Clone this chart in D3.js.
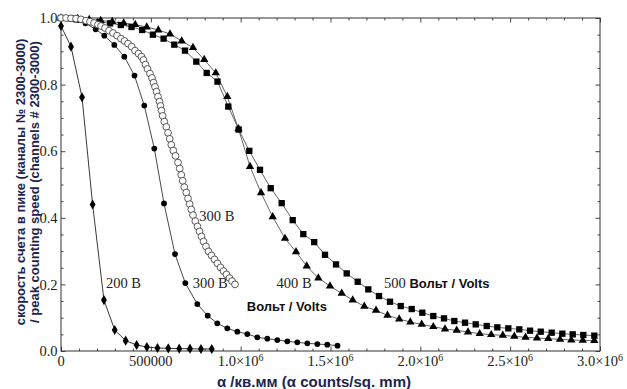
<!DOCTYPE html>
<html><head><meta charset="utf-8">
<script src="https://cdn.jsdelivr.net/npm/d3@7"></script>
<style>body{margin:0;background:#fff} svg{display:block}</style>
</head><body><svg id="c" width="627" height="389"></svg>
<script>
// ---------- data ----------
const xTicks = [0, 500000, 1000000, 1500000, 2000000, 2500000, 3000000];
const xTickLabels = ["0", "500000", "1.0×10", "1.5×10", "2.0×10", "2.5×10", "3.0×10"];
const xTickExps = ["", "", "6", "6", "6", "6", "6"];
const yTicks = [0, 0.2, 0.4, 0.6, 0.8, 1.0];
const yTickLabels = ["0.0", "0.2", "0.4", "0.6", "0.8", "1.0"];

// 200 V, diamonds
const s200 = [[0,0.976],[55700,0.914],[117000,0.762],[176000,0.44],[239000,0.153],[299000,0.063],
  [360000,0.031],[421000,0.018],[478000,0.012],[537000,0.009],[597000,0.008],[658000,0.007],
  [718000,0.007],[779000,0.006],[839000,0.006]];
// 300 V, filled circles
const s300 = [[0,1.0],[77900,0.995],[136400,0.984],[193100,0.966],[241000,0.947],[296700,0.919],
  [352300,0.884],[409100,0.827],[463600,0.737],[519300,0.608],[573300,0.443],[634500,0.291],
  [691900,0.204],[758600,0.141],[816500,0.106],[870000,0.083],[925600,0.068],[981300,0.058],
  [1036900,0.051],[1092600,0.041],[1148300,0.037],[1203900,0.033],[1259600,0.029],[1315300,0.026],
  [1370900,0.023],[1426600,0.021],[1482200,0.019],[1539000,0.016]];
// 300 V, open circles (dense, no line)
const s300open = [[0,1.0],[27800,1.0],[55700,0.999],[83500,0.998],[111300,0.996],[139200,0.992],
  [161400,0.989],[183700,0.985],[205900,0.980],[222600,0.976],[244900,0.970],[267200,0.962],
  [289400,0.955],[311700,0.947],[333900,0.938],[353400,0.931],[372900,0.923],[393500,0.914],
  [411900,0.902],[431400,0.893],[448100,0.884],[459200,0.874],[470300,0.860],[481500,0.847],
  [495400,0.833],[506500,0.820],[514900,0.806],[523200,0.793],[531600,0.779],[539900,0.764],
  [548300,0.749],[553800,0.736],[559400,0.722],[566100,0.706],[575000,0.689],[586100,0.673],
  [595600,0.655],[605000,0.637],[613900,0.619],[625100,0.602],[637300,0.586],[651200,0.566],
  [660700,0.548],[669600,0.529],[677400,0.511],[686300,0.492],[697400,0.476],[706900,0.458],
  [716300,0.441],[725200,0.425],[734700,0.408],[747500,0.390],[759800,0.374],[770900,0.359],
  [782000,0.344],[793200,0.329],[807100,0.314],[821000,0.299],[837700,0.287],[854400,0.275],
  [871100,0.263],[887800,0.251],[904500,0.240],[921200,0.230],[937900,0.219],[951800,0.210],
  [968500,0.200]];
// 400 V, triangles
const s400 = [[0,1.0],[93000,0.998],[157000,0.995],[221000,0.992],[285000,0.989],[349000,0.985],
  [413000,0.980],[477000,0.973],[541600,0.964],[606700,0.952],[671800,0.931],[734700,0.911],
  [797100,0.875],[861600,0.835],[925600,0.764],[988000,0.667],[1052000,0.554],[1113200,0.475],
  [1178300,0.403],[1246800,0.338],[1308000,0.298],[1367600,0.255],[1432100,0.219],[1497300,0.195],
  [1562400,0.173],[1623600,0.153],[1688200,0.134],[1753300,0.122],[1817300,0.107],[1882400,0.096],
  [1944200,0.087],[2007700,0.080],[2072200,0.073],[2137300,0.066],[2202500,0.062],[2265400,0.057],
  [2330500,0.052],[2394500,0.049],[2459100,0.047],[2523100,0.044],[2585500,0.041],[2649400,0.039],
  [2712300,0.037],[2777400,0.035],[2840300,0.033],[2904300,0.032],[2968400,0.031]];
// 500 V, squares
const s500 = [[0,1.0],[52900,0.999],[105800,0.995],[154200,0.991],[213700,0.988],[273300,0.984],
  [332800,0.979],[392400,0.973],[452000,0.964],[511500,0.950],[571100,0.938],[630600,0.920],
  [690200,0.902],[753100,0.869],[811000,0.835],[871100,0.809],[931200,0.734],[989100,0.665],
  [1048100,0.601],[1107600,0.544],[1167200,0.489],[1228400,0.444],[1289600,0.393],[1348600,0.351],
  [1409300,0.327],[1469400,0.289],[1530700,0.260],[1590200,0.233],[1651400,0.208],[1710400,0.185],
  [1770000,0.165],[1831200,0.148],[1890800,0.135],[1952000,0.126],[2011000,0.115],[2072200,0.105],
  [2131800,0.098],[2189100,0.090],[2248700,0.085],[2308200,0.080],[2369500,0.075],[2428500,0.071],
  [2489700,0.068],[2550900,0.065],[2610500,0.061],[2670000,0.058],[2731200,0.055],[2790300,0.052],
  [2848100,0.050],[2907100,0.048],[2968400,0.046]];

// ---------- drawing ----------
const svg = d3.select("#c");
const L = 61, R = 600, T = 18, B = 351;
const x = d3.scaleLinear().domain([0, 3000000]).range([L, R]);
const y = d3.scaleLinear().domain([0, 1]).range([B, T]);
const serif = "'Liberation Serif','Times New Roman',serif";
const sans = "'Liberation Sans',Arial,sans-serif";
const axisColor = "#333";

const xMinor = d3.range(0, 3000001, 100000).filter(v => v % 500000 !== 0);
const yMinor = d3.range(0, 21).map(i => i * 0.05).filter((v, i) => i % 4 !== 0);

function styleAxis(g) {
  g.select(".domain").remove();
  g.selectAll("line").attr("stroke", axisColor).attr("stroke-width", 0.9);
}
// bottom
svg.append("g").attr("transform", `translate(0,${B})`)
  .call(d3.axisBottom(x).tickValues(xTicks).tickSizeInner(-4.5).tickSizeOuter(0).tickFormat(() => ""))
  .call(styleAxis);
svg.append("g").attr("transform", `translate(0,${B})`)
  .call(d3.axisBottom(x).tickValues(xMinor).tickSizeInner(-2.5).tickSizeOuter(0).tickFormat(() => ""))
  .call(styleAxis);
// top
svg.append("g").attr("transform", `translate(0,${T})`)
  .call(d3.axisTop(x).tickValues(xTicks).tickSizeInner(-4.5).tickSizeOuter(0).tickFormat(() => ""))
  .call(styleAxis);
svg.append("g").attr("transform", `translate(0,${T})`)
  .call(d3.axisTop(x).tickValues(xMinor).tickSizeInner(-2.5).tickSizeOuter(0).tickFormat(() => ""))
  .call(styleAxis);
// left
svg.append("g").attr("transform", `translate(${L},0)`)
  .call(d3.axisLeft(y).tickValues(yTicks).tickSizeInner(-4.5).tickSizeOuter(0).tickPadding(3.5)
    .tickFormat((d, i) => yTickLabels[i]))
  .call(styleAxis)
  .call(g => g.selectAll("text").attr("font-family", serif).attr("font-size", 14.5).attr("fill", "#222"));
svg.append("g").attr("transform", `translate(${L},0)`)
  .call(d3.axisLeft(y).tickValues(yMinor).tickSizeInner(-2.5).tickSizeOuter(0).tickFormat(() => ""))
  .call(styleAxis);
// right
svg.append("g").attr("transform", `translate(${R},0)`)
  .call(d3.axisRight(y).tickValues(yTicks).tickSizeInner(-4.5).tickSizeOuter(0).tickFormat(() => ""))
  .call(styleAxis);
svg.append("g").attr("transform", `translate(${R},0)`)
  .call(d3.axisRight(y).tickValues(yMinor).tickSizeInner(-2.5).tickSizeOuter(0).tickFormat(() => ""))
  .call(styleAxis);

// x tick labels with superscripts
const xl = svg.append("g").attr("font-family", serif).attr("font-size", 14.5).attr("fill", "#222");
xTicks.forEach((v, i) => {
  const t = xl.append("text").attr("x", x(v)).attr("y", B + 15).attr("text-anchor", "middle");
  t.append("tspan").text(xTickLabels[i]);
  if (xTickExps[i]) t.append("tspan").attr("dy", -5.5).attr("font-size", 10).text(xTickExps[i]);
});

// frame
svg.append("rect").attr("x", L).attr("y", T).attr("width", R - L).attr("height", B - T)
  .attr("fill", "none").attr("stroke", axisColor).attr("stroke-width", 1);

// lines
const line = d3.line().x(d => x(d[0])).y(d => y(d[1]));
const plot = svg.append("g");
[[s200, "#222"], [s300, "#333"], [s400, "#555"], [s500, "#555"]].forEach(([data, col]) => {
  plot.append("path").attr("d", line(data)).attr("fill", "none").attr("stroke", col).attr("stroke-width", 0.9);
});

// markers
function marks(data, type, size) {
  plot.append("g").selectAll("path").data(data).join("path")
    .attr("transform", d => `translate(${x(d[0])},${y(d[1])})`)
    .attr("d", d3.symbol().type(type).size(size))
    .attr("fill", "#000");
}
marks(s500, d3.symbolSquare, 40);
marks(s400, d3.symbolTriangle, 30);
marks(s300, d3.symbolCircle, 26);
marks(s200, d3.symbolDiamond, 30);
plot.append("g").selectAll("circle").data(s300open).join("circle")
  .attr("cx", d => x(d[0])).attr("cy", d => y(d[1])).attr("r", 3.4)
  .attr("fill", "#fff").attr("stroke", "#333").attr("stroke-width", 0.8);

// annotations
const ann = svg.append("g").attr("fill", "#222");
function serifLabel(xv, yv, txt) {
  ann.append("text").attr("x", x(xv)).attr("y", y(yv)).attr("font-family", serif).attr("font-size", 14.5).text(txt);
}
serifLabel(250000, 0.188, "200 В");
serifLabel(770000, 0.39, "300 В");
serifLabel(733000, 0.188, "300 В");
serifLabel(1200000, 0.188, "400 В");
ann.append("text").attr("x", x(1034000)).attr("y", y(0.1216)).attr("font-family", sans)
  .attr("font-weight", "bold").attr("font-size", 13).attr("fill", "#111").text("Вольт / Volts");
const t500 = ann.append("text").attr("x", x(1798000)).attr("y", y(0.188));
t500.append("tspan").attr("font-family", serif).attr("font-size", 14.5).text("500 ");
t500.append("tspan").attr("font-family", sans).attr("font-weight", "bold").attr("font-size", 13).attr("fill", "#111").text("Вольт / Volts");

// axis titles
const titleCol = "#1c2550";
svg.append("text").attr("transform", "translate(25,182) rotate(-90)").attr("text-anchor", "middle")
  .attr("font-family", sans).attr("font-weight", "bold").attr("font-size", 13).attr("fill", titleCol)
  .text("скорость счета в пике (каналы № 2300-3000)");
svg.append("text").attr("transform", "translate(39,182) rotate(-90)").attr("text-anchor", "middle")
  .attr("font-family", sans).attr("font-weight", "bold").attr("font-size", 13).attr("fill", titleCol)
  .text("/ peak counting speed (channels # 2300-3000)");
svg.append("text").attr("x", 314).attr("y", 387).attr("text-anchor", "middle")
  .attr("font-family", sans).attr("font-weight", "bold").attr("font-size", 15).attr("fill", titleCol)
  .text("α /кв.мм  (α counts/sq. mm)");
</script></body></html>
